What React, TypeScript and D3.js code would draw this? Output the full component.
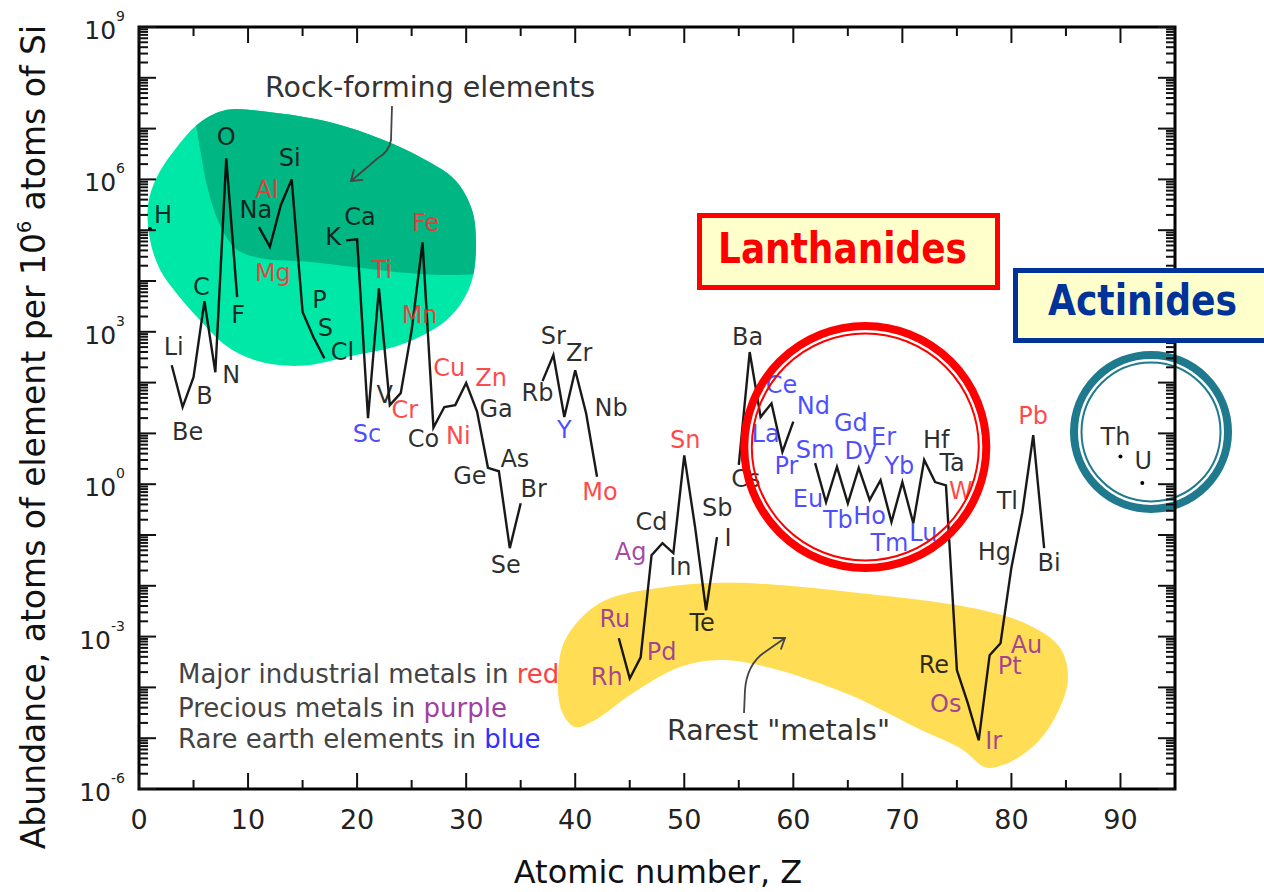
import React from 'react';
import * as d3 from 'd3';

// abundance of elements, atoms per 10^6 atoms of Si
const symbols = ['H','Li','Be','B','C','N','O','F','Na','Mg','Al','Si','P','S','Cl','K','Ca','Sc','Ti','V','Cr','Mn','Fe','Co','Ni','Cu','Zn','Ga','Ge','As','Se','Br','Rb','Sr','Y','Zr','Nb','Mo','Ru','Rh','Pd','Ag','Cd','In','Sn','Sb','Te','I','Cs','Ba','La','Ce','Pr','Nd','Sm','Eu','Gd','Tb','Dy','Ho','Er','Tm','Yb','Lu','Hf','Ta','W','Re','Os','Ir','Pt','Au','Hg','Tl','Pb','Bi','Th','U'];
const atomicNumbers = [1,3,4,5,6,7,8,9,11,12,13,14,15,16,17,19,20,21,22,23,24,25,26,27,28,29,30,31,32,33,34,35,37,38,39,40,41,42,44,45,46,47,48,49,50,51,52,53,55,56,57,58,59,60,62,63,64,65,66,67,68,69,70,71,72,73,74,75,76,77,78,79,80,81,82,83,90,92];
const abundances = [1.05e5,220,33,128,4000,160,2.6e6,4800,1.15e5,4.7e4,3.1e5,1e6,2450,780,300,6.3e4,6.6e4,20,7200,36,62,1070,5.8e4,13,33,36,98,27,2.1,1.8,0.055,0.42,107,350,21,175,25,1.4,9.3e-4,1.5e-4,3.9e-4,0.04,0.069,0.044,3.7,0.14,3.3e-3,0.091,2.4,400,21,39,4.3,17,2.6,0.44,2.2,0.42,2.1,0.49,1.2,0.18,1.1,0.17,3.0,1.1,0.95,2.2e-4,4.9e-5,9.1e-6,4.3e-4,7.4e-4,0.023,0.28,9.2,0.055,3.5,1.05];

const industrialMetals = ['Mg','Al','Ti','Cr','Mn','Fe','Ni','Cu','Zn','Mo','Sn','W','Pb'];
const preciousMetals = ['Ru','Rh','Pd','Ag','Os','Ir','Pt','Au'];
const rareEarths = ['Sc','Y','La','Ce','Pr','Nd','Sm','Eu','Gd','Tb','Dy','Ho','Er','Tm','Yb','Lu'];

// label offsets from the point, px
const labelOffsets = [[13,-14],[2,-18],[5,25],[11,19],[-3,-14],[16,3],[0,-21],[1,18],[-3,-17],[3,26],[-14,-15],[-2,-21],[17,-12],[12,-9],[18,-6],[-13,-3],[3,-22],[-1,16],[3,-18],[-5,-10],[4,17],[8,-15],[3,-19],[-10,11],[14,29],[-6,-37],[25,-5],[19,-2],[-18,8],[16,-12],[-4,17],[13,-14],[-5,12],[0,-19],[0,13],[4,-17],[25,-5],[3,15],[-4,-19],[-23,-1],[21,-5],[-21,-3],[-11,-21],[7,14],[1,-15],[22,-20],[-4,13],[11,1],[7,14],[-2,-15],[5,17],[10,-18],[4,14],[20,-16],[0,-13],[-18,-3],[14,-44],[-10,17],[2,-17],[0,16],[3,-43],[-2,21],[-3,-16],[10,10],[12,-20],[17,-19],[15,6],[-23,-5],[-22,1],[15,1],[20,11],[26,2],[-17,-15],[-15,-11],[0,-19],[5,15],[-5,-20],[1,-22]];

// shaded regions, [Z, log10 abundance]
const rockOutline = [[8.07,7.37],[11.74,7.33],[17.79,7.11],[22.37,6.78],[25.77,6.44],[28.98,5.99],[30.54,5.4],[30.9,4.71],[30.54,4.02],[29.44,3.53],[27.6,3.13],[23.93,2.74],[19.35,2.52],[14.76,2.33],[10.64,2.44],[7.89,2.74],[5.59,3.23],[3.58,3.72],[1.93,4.22],[1.01,4.81],[0.83,5.5],[1.65,6.05],[3.48,6.64],[5.59,7.12]];
const rockDark = [[4.68,7.67],[34.94,7.67],[34.94,4.44],[14.76,4.39],[10.64,4.47],[8.8,4.65],[7.43,5.1],[6.33,5.79],[5.69,6.48],[5.14,7.17]];
const rareOutline = [[38.42,-3.85],[39.06,-3.07],[42.27,-2.34],[48.42,-2.02],[54.47,-1.94],[65.2,-2.12],[77.4,-2.48],[81.98,-2.81],[84.46,-3.22],[85.19,-3.81],[84.27,-4.48],[82.16,-5.13],[79.23,-5.53],[77.58,-5.57],[75.56,-5.23],[71.35,-4.8],[65.2,-4.15],[57.59,-3.6],[53.28,-3.46],[49.61,-3.6],[45.3,-4.11],[41.82,-4.64],[39.98,-4.78],[38.79,-4.48]];
const lanthanideCentre = [66.6, 5.4];
const actinideCentre = [92.8, 10.7];

const yLabelExps = [-6, -3, 0, 3, 6, 9];
const xLabelTicks = [0, 10, 20, 30, 40, 50, 60, 70, 80, 90];

const x = d3.scaleLinear().domain([0, 95]).range([139, 1175]);
const y = d3.scaleLog().domain([1e-6, 1e9]).range([789, 27]);

const FONT = 'DejaVu Sans, Verdana, sans-serif';

function labelColor(s: string) {
  if (industrialMetals.includes(s)) return '#ff3030';
  if (preciousMetals.includes(s)) return '#992f99';
  if (rareEarths.includes(s)) return '#3535ff';
  return '#111';
}

export default function App() {
  const byZ = new Map<number, number>();
  atomicNumbers.forEach((z, i) => byZ.set(z, abundances[i]));
  const series = d3.range(1, 93).map(z => ({ z, v: byZ.has(z) ? byZ.get(z)! : null }));

  const line = d3.line<{ z: number; v: number | null }>()
    .defined(d => d.v != null)
    .x(d => x(d.z))
    .y(d => y(d.v as number));

  const isolated = atomicNumbers.filter(z => !byZ.has(z - 1) && !byZ.has(z + 1));

  const blob = d3.line<number[]>()
    .x(d => x(d[0]))
    .y(d => y(Math.pow(10, d[1])))
    .curve(d3.curveCatmullRomClosed.alpha(0.5));

  const xTicks = d3.range(0, 95, 5);
  const yTicks: { v: number; major: boolean }[] = [];
  for (let e = -6; e <= 8; e++) {
    for (let m = 1; m <= 9; m++) yTicks.push({ v: m * Math.pow(10, e), major: m === 1 });
  }
  yTicks.push({ v: 1e9, major: true });

  return (
    <svg width={1264} height={892} style={{ position: 'absolute', left: 0, top: 0, background: '#fff' }} fontFamily={FONT}>
      <defs>
        <clipPath id="rockClip">
          <path d={blob(rockOutline) || ''} />
        </clipPath>
        <marker id="arrowHead" viewBox="-12 -8 14 16" refX={0} refY={0} markerWidth={14} markerHeight={16} markerUnits="userSpaceOnUse" orient="auto">
          <path d="M-10,-7 L0,0 L-10,7" fill="none" stroke="#444" strokeWidth={1.8} />
        </marker>
      </defs>

      {/* shaded regions */}
      <path d={blob(rockOutline) || ''} fill="#00e8a8" />
      <path d={blob(rockDark) || ''} fill="#00b682" clipPath="url(#rockClip)" />
      <path d={blob(rareOutline) || ''} fill="#ffdd55" />

      {/* data line */}
      <path d={line(series) || ''} fill="none" stroke="#000" strokeOpacity={0.9} strokeWidth={2.4} />
      {isolated.map(z => (
        <circle key={z} cx={x(z)} cy={y(byZ.get(z)!)} r={2} fill="#000" />
      ))}

      {/* element labels */}
      {symbols.map((s, i) => (
        <text key={s} x={x(atomicNumbers[i]) + labelOffsets[i][0]} y={y(abundances[i]) + labelOffsets[i][1]}
          textAnchor="middle" dominantBaseline="central" fontSize={24} fill={labelColor(s)} fillOpacity={0.88}>
          {s}
        </text>
      ))}

      {/* group rings */}
      <circle cx={x(lanthanideCentre[0])} cy={y(lanthanideCentre[1])} r={121} fill="none" stroke="#ff0000" strokeWidth={8} />
      <circle cx={x(lanthanideCentre[0])} cy={y(lanthanideCentre[1])} r={113.5} fill="none" stroke="#ff0000" strokeWidth={2} />
      <circle cx={x(actinideCentre[0])} cy={y(actinideCentre[1])} r={77} fill="none" stroke="#1e7a8c" strokeWidth={8} />
      <circle cx={x(actinideCentre[0])} cy={y(actinideCentre[1])} r={69.5} fill="none" stroke="#1e7a8c" strokeWidth={2} />

      {/* axes frame and ticks */}
      <rect x={139} y={27} width={1036} height={762} fill="none" stroke="#000" strokeWidth={3} />
      {xTicks.map(t => {
        const len = t % 10 === 0 ? 16 : 9;
        return (
          <g key={'x' + t} stroke="#111" strokeWidth={2}>
            <line x1={x(t)} x2={x(t)} y1={789} y2={789 - len} />
            <line x1={x(t)} x2={x(t)} y1={27} y2={27 + len} />
          </g>
        );
      })}
      {yTicks.map((t, i) => {
        const len = t.major ? 17 : 9;
        return (
          <g key={'y' + i} stroke="#111" strokeWidth={2}>
            <line x1={139} x2={139 + len} y1={y(t.v)} y2={y(t.v)} />
            <line x1={1175} x2={1175 - len} y1={y(t.v)} y2={y(t.v)} />
          </g>
        );
      })}
      {xLabelTicks.map(t => (
        <text key={'xl' + t} x={x(t)} y={829} textAnchor="middle" fontSize={27} fill="#222">{t}</text>
      ))}
      {yLabelExps.map(e => (
        <text key={'yl' + e} x={125} y={y(Math.pow(10, e)) + 12} textAnchor="end" fontSize={25} fill="#222">
          10<tspan fontSize={14} dy={-18}>{e}</tspan>
        </text>
      ))}

      {/* axis titles */}
      <text x={658} y={883} textAnchor="middle" fontSize={32} fill="#111">Atomic number, Z</text>
      <text transform="translate(45,437) rotate(-90)" textAnchor="middle" fontSize={33} fill="#111">
        Abundance, atoms of element per 10<tspan fontSize={19} dy={-14}>6</tspan><tspan dy={14}> atoms of Si</tspan>
      </text>

      {/* annotations */}
      <text x={265} y={97} fontSize={28} fill="#333" textLength={330} lengthAdjust="spacingAndGlyphs">Rock-forming elements</text>
      <path d="M392,106 L391,140 Q389,152 378,158 L351,181" fill="none" stroke="#444" strokeWidth={1.8} markerEnd="url(#arrowHead)" />
      <text x={667} y={740} fontSize={28} fill="#333" textLength={223} lengthAdjust="spacingAndGlyphs">Rarest "metals"</text>
      <path d="M744,713 L745,690 Q747,664 765,652 L785,638" fill="none" stroke="#444" strokeWidth={1.8} markerEnd="url(#arrowHead)" />

      <text x={178} y={683} fontSize={26} fill="#444">Major industrial metals in <tspan fill="#ff4040">red</tspan></text>
      <text x={178} y={717} fontSize={26} fill="#444">Precious metals in <tspan fill="#a040a0">purple</tspan></text>
      <text x={178} y={748} fontSize={26} fill="#444">Rare earth elements in <tspan fill="#3030ff">blue</tspan></text>

      {/* group boxes */}
      <rect x={699.5} y={215.5} width={298} height={72} fill="#ffffcc" stroke="#ff0000" strokeWidth={5} />
      <text x={718} y={263} fontSize={42} fontWeight="bold" fill="#ff0000" textLength={249} lengthAdjust="spacingAndGlyphs">Lanthanides</text>
      <rect x={1015.5} y={270.5} width={260} height={70} fill="#ffffcc" stroke="#003399" strokeWidth={5} />
      <text x={1048} y={315} fontSize={42} fontWeight="bold" fill="#003399" textLength={189} lengthAdjust="spacingAndGlyphs">Actinides</text>
    </svg>
  );
}
